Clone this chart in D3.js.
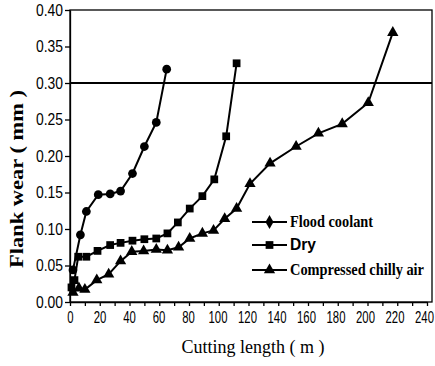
<!DOCTYPE html>
<head>
<meta charset="utf-8">
<style>
  body { margin: 0; background: #fff; }
  .axis text { font-family: "Liberation Sans", Arial, sans-serif; font-size: 15px; fill: #000; }
  .axis path, .axis line { stroke: #000; stroke-width: 1.3px; }
  .line { fill: none; stroke: #000; stroke-width: 2px; }
</style>
</head>
<body>
<svg width="435" height="366" id="svgMain"></svg>
<script src="https://d3js.org/d3.v7.min.js"></script>
<script>
//-----------------------------------------------------
//              DATA
//-----------------------------------------------------
var seriesNames = ["Flood coolant", "Dry", "Compressed chilly air"];

var floodLength = [2, 7, 11, 19, 27, 34, 42, 50, 58, 65];
var floodWear   = [0.044, 0.092, 0.124, 0.147, 0.148, 0.152, 0.176, 0.213, 0.246, 0.319];

var dryLength = [1, 3, 5.5, 11, 18.5, 27, 34, 42, 50, 58, 65.5, 72.5, 80.5, 89, 97, 105, 112];
var dryWear   = [0.020, 0.030, 0.062, 0.062, 0.070, 0.078, 0.081, 0.084, 0.086, 0.087, 0.094, 0.109, 0.128, 0.145, 0.168, 0.227, 0.327];

var airLength = [2, 6, 10, 18, 26, 34, 41.5, 49.5, 58, 65.5, 73, 80.5, 89, 96.5, 104, 112, 121, 134.5, 152, 167, 183, 200.5, 217];
var airWear   = [0.013, 0.019, 0.017, 0.030, 0.038, 0.056, 0.069, 0.070, 0.072, 0.071, 0.075, 0.087, 0.094, 0.098, 0.114, 0.128, 0.162, 0.190, 0.213, 0.231, 0.244, 0.273, 0.369];

var limitWear = 0.30;

var xTicks = d3.range(0, 241, 10);
var xTickLabels = d3.range(0, 241, 20);
var yTicks = d3.range(0, 0.401, 0.05);

//-----------------------------------------------------
//              DIMENSIONS & SCALES
//-----------------------------------------------------
var svg = d3.select("svg"),
    margin = {left: 70, right: 432, top: 10, bottom: 302};

var x = d3.scaleLinear().domain([0, 240]).range([margin.left, 427]),
    y = d3.scaleLinear().domain([0, 0.4]).range([margin.bottom, margin.top]);

var line = d3.line()
    .x(function(d) { return x(d.len); })
    .y(function(d) { return y(d.wear); });

function pair(lens, wears) {
  return lens.map(function(l, i) { return {len: l, wear: wears[i]}; });
}

var series = [
  {id: seriesNames[0], symbol: "circle",   values: pair(floodLength, floodWear)},
  {id: seriesNames[1], symbol: "square",   values: pair(dryLength, dryWear)},
  {id: seriesNames[2], symbol: "triangle", values: pair(airLength, airWear)}
];

//-----------------------------------------------------
//              FRAME & AXES
//-----------------------------------------------------
svg.append("rect")
    .attr("x", margin.left).attr("y", margin.top)
    .attr("width", margin.right - margin.left).attr("height", margin.bottom - margin.top)
    .attr("fill", "none").attr("stroke", "#000").attr("stroke-width", 1.3);

svg.append("g")
    .attr("class", "axis axis--y")
    .attr("transform", "translate(" + margin.left + ",0)")
    .call(d3.axisLeft(y).tickValues(yTicks).tickFormat(d3.format(".2f")).tickSize(5).tickSizeOuter(0).tickPadding(2))
  .selectAll("text")
    .style("font-size", "16px")
    .attr("textLength", 27).attr("lengthAdjust", "spacingAndGlyphs");

svg.append("g")
    .attr("class", "axis axis--x")
    .attr("transform", "translate(0," + margin.bottom + ")")
    .call(d3.axisBottom(x).tickValues(xTicks).tickSize(4).tickSizeOuter(0).tickPadding(6)
      .tickFormat(function(d) { return xTickLabels.indexOf(d) >= 0 ? d : ""; }))
  .selectAll("text")
    .style("font-size", "16px")
    .attr("textLength", function(d) { return xTickLabels.indexOf(d) >= 0 ? String(d).length * 6.3 : null; })
    .attr("lengthAdjust", "spacingAndGlyphs")
    .attr("dx", function(d) { return -d / 240 * 3; });

// axis titles
svg.append("text")
    .attr("transform", "translate(23,179) rotate(-90)")
    .attr("text-anchor", "middle")
    .attr("textLength", 178).attr("lengthAdjust", "spacingAndGlyphs")
    .style("font", "bold 19px 'Liberation Serif', serif")
    .text("Flank wear ( mm )");

svg.append("text")
    .attr("x", 253).attr("y", 353)
    .attr("text-anchor", "middle")
    .attr("textLength", 143).attr("lengthAdjust", "spacingAndGlyphs")
    .style("font", "18px 'Liberation Serif', serif")
    .text("Cutting length ( m )");

//-----------------------------------------------------
//              0.30 mm LIMIT LINE
//-----------------------------------------------------
svg.append("line")
    .attr("x1", margin.left).attr("x2", margin.right)
    .attr("y1", y(limitWear)).attr("y2", y(limitWear))
    .attr("stroke", "#000").attr("stroke-width", 2.2);

//-----------------------------------------------------
//              SERIES
//-----------------------------------------------------
var symbols = {
  circle: d3.symbol().type(d3.symbolCircle).size(60),
  square: d3.symbol().type(d3.symbolSquare).size(60),
  triangle: d3.symbol().type(d3.symbolTriangle).size(55),
  diamond: d3.symbol().type(d3.symbolDiamond).size(55)
};

var s = svg.selectAll(".series")
    .data(series)
    .enter().append("g")
    .attr("class", "series");

s.append("path")
    .attr("class", "line")
    .attr("d", function(d) { return line(d.values); });

s.each(function(d) {
  d3.select(this).selectAll(".pt")
      .data(d.values)
      .enter().append("path")
      .attr("class", "pt")
      .attr("transform", function(p) { return "translate(" + x(p.len) + "," + y(p.wear) + ")"; })
      .attr("d", symbols[d.symbol])
      .attr("fill", "#000");
});

//-----------------------------------------------------
//              LEGEND
//-----------------------------------------------------
var legendY = [222, 245, 270],
    legendSym = ["diamond", "square", "triangle"],
    legendFont = ["bold 16px 'Liberation Serif', serif", "bold 16px 'Liberation Sans', sans-serif", "bold 16px 'Liberation Serif', serif"],
    legendLen = [83, 26, 134];

var lg = svg.selectAll(".legend")
    .data(seriesNames)
    .enter().append("g")
    .attr("class", "legend")
    .attr("transform", function(d, i) { return "translate(0," + legendY[i] + ")"; });

lg.append("line")
    .attr("x1", 252).attr("x2", 287)
    .attr("stroke", "#000").attr("stroke-width", 2);

lg.append("path")
    .attr("transform", "translate(269.5,0)")
    .attr("d", function(d, i) { return symbols[legendSym[i]](); });

lg.append("text")
    .attr("x", 290).attr("y", 5)
    .attr("textLength", function(d, i) { return legendLen[i]; })
    .attr("lengthAdjust", "spacingAndGlyphs")
    .style("font", function(d, i) { return legendFont[i]; })
    .text(function(d) { return d; });
</script>
</body>
